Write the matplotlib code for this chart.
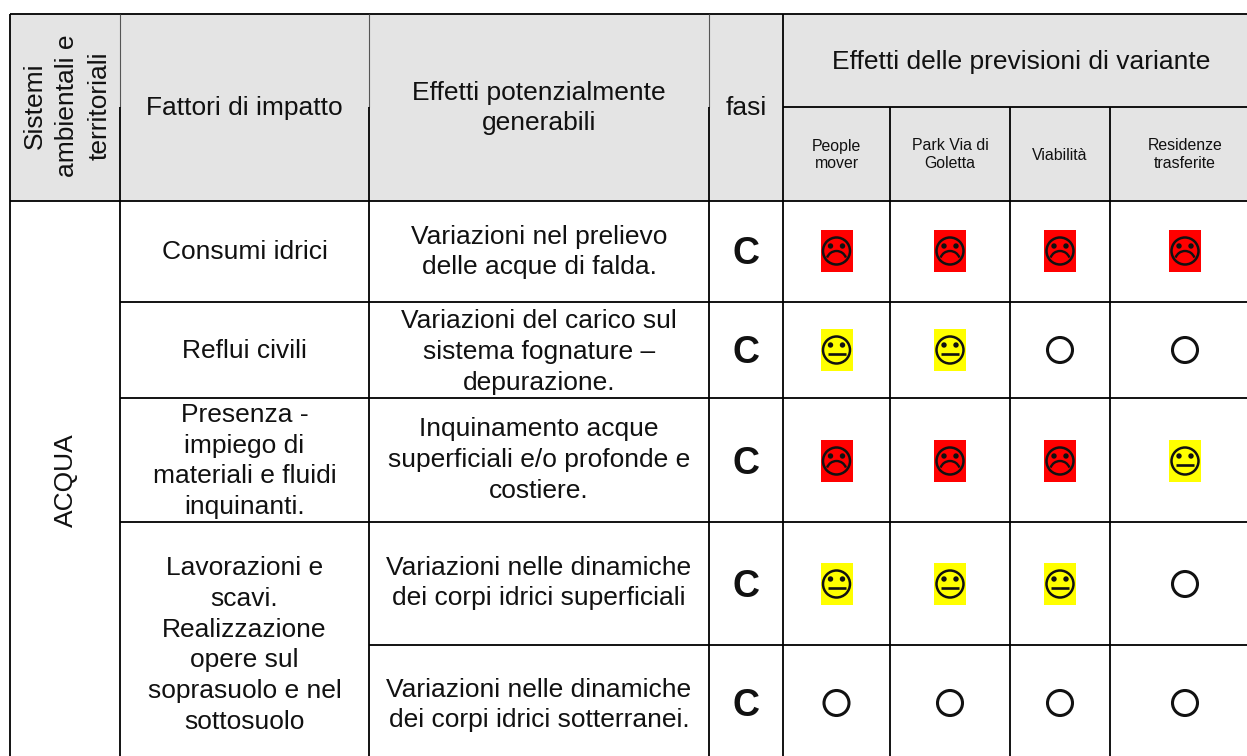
import matplotlib
matplotlib.use("Agg")
import matplotlib.pyplot as plt
from matplotlib.patches import Rectangle, Circle, Arc

plt.rcParams["font.family"] = ["Liberation Sans", "DejaVu Sans"]

col_header = "Sistemi\nambientali e\nterritoriali"
headers = ["Fattori di impatto", "Effetti potenzialmente\ngenerabili", "fasi"]
top_header = "Effetti delle previsioni di variante"
scenarios = ["People\nmover", "Park Via di\nGoletta", "Viabilità", "Residenze\ntrasferite"]
sistema = "ACQUA"
fattori = ["Consumi idrici", "Reflui civili",
           "Presenza -\nimpiego di\nmateriali e fluidi\ninquinanti.",
           "Lavorazioni e\nscavi.\nRealizzazione\nopere sul\nsoprasuolo e nel\nsottosuolo"]
effetti = ["Variazioni nel prelievo\ndelle acque di falda.",
           "Variazioni del carico sul\nsistema fognature –\ndepurazione.",
           "Inquinamento acque\nsuperficiali e/o profonde e\ncostiere.",
           "Variazioni nelle dinamiche\ndei corpi idrici superficiali",
           "Variazioni nelle dinamiche\ndei corpi idrici sotterranei."]
fasi = ["C", "C", "C", "C", "C"]
# r = negativo, y = medio, o = nullo
giudizi = [["r", "r", "r", "r"],
           ["y", "y", "o", "o"],
           ["r", "r", "r", "y"],
           ["y", "y", "y", "o"],
           ["o", "o", "o", "o"]]

# griglia in pixel
xs = [10, 120, 369, 709, 783, 890, 1010, 1110, 1260]
ys = [201, 302, 398, 522, 645, 770]
top = 14
mid = 107
W, H = 1247, 756

fig = plt.figure(figsize=(W / 100, H / 100), dpi=100)
ax = fig.add_axes([0, 0, 1, 1])
ax.set_xlim(0, W)
ax.set_ylim(H, 0)
ax.axis("off")

ax.add_patch(Rectangle((xs[0], top), W - xs[0], ys[0] - top, color="#e4e4e4", lw=0, zorder=0))

lw = 1.3
def hline(y, x0, x1):
    ax.plot([x0, x1], [y, y], color="black", lw=lw, solid_capstyle="butt", zorder=2)
def vline(x, y0, y1, color="black", w=lw):
    ax.plot([x, x], [y0, y1], color=color, lw=w, solid_capstyle="butt", zorder=2)

hline(top, xs[0], W)
hline(ys[0], xs[0], W)
hline(mid, xs[4], W)
hline(ys[1], xs[1], W)
hline(ys[2], xs[1], W)
hline(ys[3], xs[1], W)
hline(ys[4], xs[2], W)
vline(xs[0], top, H)
for x in xs[1:4]:
    vline(x, top, mid, color="#555555", w=0.8)
    vline(x, mid, H)
vline(xs[4], top, H)
for x in xs[5:8]:
    vline(x, mid, H)

def txt(x, y, s, size=19, ls=1.36, **kw):
    ax.text(x, y, s, ha="center", va="center", multialignment="center",
            fontsize=size, color="#111111", linespacing=ls, zorder=3, **kw)

def centre(i):
    return (xs[i] + xs[i + 1]) / 2

txt(67, 106, col_header, ls=1.45, rotation=90)
txt(centre(1), 108, headers[0])
txt(centre(2), 108, headers[1])
txt(centre(3), 108, headers[2])
txt((xs[4] + xs[8]) / 2, 62, top_header)
for i, s in enumerate(scenarios):
    txt(centre(4 + i), 155, s, size=11.4, ls=1.25)

txt(66, 480, sistema, rotation=90)
for y, s in zip([252, 351, 461, 645], fattori):
    txt(centre(1), y, s)
row_y = [252, 352, 460, 583, 705]
for y, s in zip(row_y, effetti):
    txt(centre(2), y, s)

symbol_y = [251, 350, 461, 584, 703]
def smiley(cx, cy, kind):
    if kind == "o":
        ax.add_patch(Circle((cx, cy), 12.5, fill=False, ec="#111111", lw=2.2, zorder=3))
        return
    face = "#ff0000" if kind == "r" else "#ffff00"
    ax.add_patch(Rectangle((cx - 16, cy - 21), 32, 42, color=face, lw=0, zorder=1))
    ax.add_patch(Circle((cx, cy), 13.5, fill=False, ec="#111111", lw=1.8, zorder=3))
    for dx in (-6, 6):
        ax.add_patch(Circle((cx + dx, cy - 5), 2.7, color="#111111", lw=0, zorder=3))
    if kind == "r":
        ax.add_patch(Arc((cx, cy + 10), 20, 20, theta1=200, theta2=340, ec="#111111", lw=1.7, zorder=3))
    else:
        ax.plot([cx - 9, cx + 9], [cy + 4, cy + 4], color="#111111", lw=1.9, solid_capstyle="butt", zorder=3)

for r, y in enumerate(symbol_y):
    txt(centre(3), y + 3, fasi[r], size=27, fontweight="bold")
    for c, kind in enumerate(giudizi[r]):
        smiley(centre(4 + c), y, kind)

fig.savefig("out.png", dpi=100)
